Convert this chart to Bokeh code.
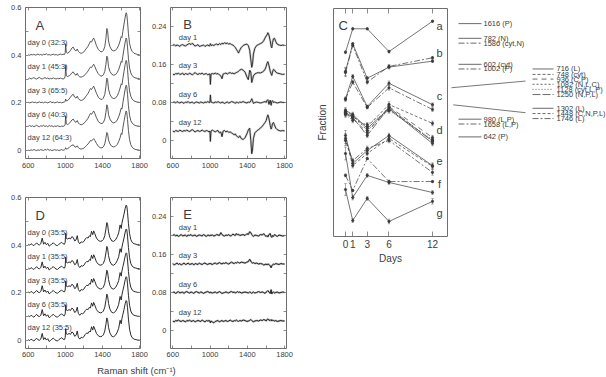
from bokeh.plotting import figure
from bokeh.models import Range1d, LinearAxis, FixedTicker, Label, ColumnDataSource, Whisker, TeeHead
from bokeh.layouts import row, column
from bokeh.embed import file_html
from bokeh.resources import INLINE
from bokeh.core.properties import value

# ---------------- data ----------------
wn = [600, 615, 630, 645, 660, 675, 690, 705, 720, 735,
      750, 765, 780, 795, 810, 825, 840, 855, 870, 885,
      900, 915, 930, 945, 960, 975, 990, 998, 1003, 1010,
      1025, 1040, 1055, 1070, 1085, 1100, 1115, 1128, 1140, 1155,
      1170, 1185, 1200, 1215, 1230, 1245, 1260, 1270, 1282, 1295,
      1305, 1318, 1335, 1355, 1375, 1395, 1410, 1425, 1437, 1447,
      1455, 1465, 1480, 1500, 1520, 1540, 1560, 1575, 1590, 1602,
      1610, 1620, 1632, 1645, 1655, 1662, 1670, 1680, 1692, 1705,
      1720, 1740, 1760, 1780, 1800]

offsets_A = [0.4, 0.3, 0.2, 0.1, 0.0]
labels_A = ["day 0 (32:3)", "day 1 (45:3)", "day 3 (65:5)", "day 6 (40:3)", "day 12 (64:3)"]

spec_A_day0 = [0.002, 0.000, 0.003, 0.001, 0.004, 0.000, 0.002, 0.005, 0.001, 0.003,
               0.000, 0.004, 0.002, 0.006, 0.001, 0.003, 0.000, 0.002, 0.004, 0.001,
               0.003, 0.000, 0.002, 0.005, 0.002, 0.004, 0.003, 0.010, 0.048, 0.012,
               0.008, 0.012, 0.020, 0.030, 0.034, 0.022, 0.018, 0.026, 0.016, 0.010,
               0.008, 0.010, 0.014, 0.022, 0.030, 0.038, 0.050, 0.058, 0.055, 0.066,
               0.072, 0.060, 0.040, 0.024, 0.016, 0.014, 0.020, 0.036, 0.070, 0.112,
               0.104, 0.060, 0.036, 0.022, 0.018, 0.020, 0.030, 0.042, 0.060, 0.078,
               0.074, 0.100, 0.130, 0.160, 0.178, 0.172, 0.140, 0.090, 0.050, 0.028,
               0.016, 0.008, 0.005, 0.003, 0.002]
spec_A_day1 = [0.001, 0.004, 0.000, 0.003, 0.006, 0.002, 0.000, 0.004, 0.007, 0.002,
               0.000, 0.003, 0.006, 0.002, 0.004, 0.000, 0.003, 0.001, 0.005, 0.002,
               0.000, 0.003, 0.001, 0.004, 0.002, 0.000, 0.003, 0.012, 0.058, 0.014,
               0.010, 0.014, 0.018, 0.026, 0.030, 0.020, 0.016, 0.024, 0.014, 0.009,
               0.008, 0.010, 0.013, 0.020, 0.026, 0.034, 0.044, 0.050, 0.048, 0.056,
               0.062, 0.052, 0.036, 0.022, 0.014, 0.012, 0.018, 0.032, 0.062, 0.096,
               0.090, 0.052, 0.032, 0.020, 0.016, 0.018, 0.028, 0.040, 0.058, 0.074,
               0.070, 0.096, 0.126, 0.155, 0.172, 0.166, 0.134, 0.086, 0.046, 0.026,
               0.014, 0.007, 0.004, 0.003, 0.002]
spec_A_day3 = [0.003, 0.000, 0.002, 0.004, 0.001, 0.003, 0.000, 0.002, 0.004, 0.001,
               0.003, 0.000, 0.004, 0.002, 0.000, 0.003, 0.005, 0.001, 0.003, 0.000,
               0.002, 0.004, 0.001, 0.003, 0.000, 0.002, 0.004, 0.006, 0.016, 0.008,
               0.010, 0.016, 0.024, 0.032, 0.036, 0.024, 0.020, 0.028, 0.018, 0.012,
               0.010, 0.012, 0.016, 0.024, 0.032, 0.040, 0.052, 0.060, 0.056, 0.064,
               0.070, 0.058, 0.040, 0.024, 0.016, 0.014, 0.020, 0.036, 0.068, 0.104,
               0.098, 0.058, 0.036, 0.022, 0.018, 0.020, 0.030, 0.044, 0.062, 0.080,
               0.076, 0.102, 0.132, 0.162, 0.178, 0.172, 0.140, 0.090, 0.050, 0.028,
               0.016, 0.008, 0.005, 0.003, 0.002]
spec_A_day6 = [0.002, 0.005, 0.001, 0.004, 0.000, 0.003, 0.006, 0.002, 0.000, 0.004,
               0.002, 0.006, 0.001, 0.004, 0.000, 0.005, 0.002, 0.004, 0.000, 0.003,
               0.001, 0.004, 0.002, 0.000, 0.003, 0.001, 0.004, 0.010, 0.046, 0.012,
               0.008, 0.014, 0.020, 0.028, 0.032, 0.022, 0.018, 0.026, 0.016, 0.010,
               0.008, 0.010, 0.014, 0.021, 0.028, 0.036, 0.048, 0.056, 0.052, 0.060,
               0.066, 0.056, 0.038, 0.022, 0.015, 0.013, 0.018, 0.032, 0.060, 0.092,
               0.086, 0.050, 0.032, 0.020, 0.016, 0.019, 0.028, 0.042, 0.060, 0.078,
               0.074, 0.100, 0.128, 0.158, 0.174, 0.168, 0.136, 0.088, 0.048, 0.026,
               0.015, 0.008, 0.004, 0.003, 0.002]
spec_A_day12 = [0.002, 0.000, 0.003, 0.001, 0.004, 0.002, 0.000, 0.003, 0.001, 0.004,
                0.002, 0.000, 0.005, 0.002, 0.006, 0.001, 0.003, 0.000, 0.002, 0.004,
                0.001, 0.003, 0.000, 0.002, 0.004, 0.001, 0.003, 0.006, 0.012, 0.006,
                0.008, 0.012, 0.018, 0.022, 0.024, 0.016, 0.014, 0.020, 0.012, 0.008,
                0.006, 0.008, 0.010, 0.016, 0.022, 0.028, 0.036, 0.042, 0.040, 0.046,
                0.050, 0.042, 0.030, 0.018, 0.012, 0.011, 0.016, 0.028, 0.052, 0.076,
                0.072, 0.044, 0.028, 0.018, 0.015, 0.018, 0.026, 0.038, 0.054, 0.072,
                0.068, 0.094, 0.122, 0.150, 0.166, 0.160, 0.130, 0.084, 0.046, 0.025,
                0.014, 0.007, 0.004, 0.003, 0.002]

offsets_D = [0.4, 0.3, 0.2, 0.1, 0.0]
labels_D = ["day 0 (35:5)", "day 1 (35:5)", "day 3 (35:5)", "day 6 (35:5)", "day 12 (35:5)"]
spec_D = [0.004, 0.000, 0.006, 0.002, -0.002, 0.004, 0.010, 0.003, 0.001, 0.006,
          0.030, 0.004, 0.012, 0.002, 0.008, -0.004, 0.000, 0.006, 0.010, 0.004,
          0.000, -0.002, 0.004, 0.008, 0.012, 0.006, 0.004, 0.012, 0.050, 0.028,
          0.026, 0.030, 0.026, 0.036, 0.032, 0.018, 0.022, 0.040, 0.014, 0.006,
          0.014, 0.012, 0.016, 0.026, 0.032, 0.030, 0.040, 0.036, 0.058, 0.044,
          0.060, 0.048, 0.030, 0.020, 0.016, 0.018, 0.024, 0.040, 0.068, 0.095,
          0.088, 0.056, 0.032, 0.018, 0.016, 0.022, 0.036, 0.052, 0.085, 0.070,
          0.092, 0.110, 0.130, 0.155, 0.168, 0.165, 0.138, 0.090, 0.048, 0.024,
          0.012, 0.006, 0.004, 0.002, 0.002]

offsets_B = [0.2, 0.14, 0.08, 0.02]
labels_B = ["day 1", "day 3", "day 6", "day 12"]
diff_B_day1 = [0.000, 0.002, -0.001, 0.001, 0.000, -0.002, 0.001, 0.002, 0.000, -0.001,
               0.001, 0.003, 0.004, 0.002, 0.005, 0.001, -0.001, 0.000, 0.002, -0.002,
               -0.001, 0.000, 0.001, -0.002, 0.000, 0.001, -0.001, 0.000, 0.004, 0.000,
               0.001, 0.000, 0.002, 0.003, 0.001, 0.004, 0.002, 0.005, 0.003, 0.006,
               0.004, 0.005, 0.003, 0.004, 0.002, 0.001, -0.002, -0.004, -0.008, -0.012,
               -0.016, -0.010, -0.004, 0.000, 0.002, 0.003, 0.000, -0.010, -0.030, -0.046,
               -0.040, -0.018, -0.006, 0.000, 0.002, 0.004, 0.006, 0.010, 0.016, 0.020,
               0.022, 0.027, 0.022, 0.010, -0.002, -0.005, 0.006, 0.014, 0.015, 0.008,
               0.003, 0.001, 0.000, 0.001, 0.000]
diff_B_day3 = [0.000, -0.002, 0.001, 0.000, 0.002, -0.001, 0.000, 0.002, -0.002, 0.001,
               0.000, -0.001, 0.002, 0.000, -0.002, 0.001, 0.003, 0.000, -0.001, 0.001,
               0.000, 0.002, -0.001, 0.000, 0.001, -0.002, 0.000, 0.000, -0.022, 0.000,
               0.001, 0.000, 0.002, 0.000, 0.001, -0.002, -0.004, -0.010, 0.000, 0.001,
               0.002, 0.000, 0.002, 0.003, 0.001, 0.002, 0.000, 0.002, 0.003, 0.004,
               0.006, 0.008, 0.010, 0.008, 0.004, -0.006, -0.012, 0.008, 0.004, -0.018,
               -0.012, -0.004, 0.000, 0.002, 0.003, 0.002, 0.004, 0.006, 0.010, 0.016,
               0.022, 0.026, 0.018, 0.006, 0.000, -0.003, 0.004, 0.010, 0.008, 0.004,
               0.002, 0.001, 0.000, -0.001, 0.000]
diff_B_day6 = [0.000, 0.001, -0.001, 0.002, 0.000, -0.001, 0.001, 0.000, -0.002, 0.001,
               0.000, 0.002, -0.001, 0.000, 0.001, -0.002, 0.000, 0.001, 0.000, -0.001,
               0.001, 0.000, -0.001, 0.001, 0.000, 0.002, 0.000, 0.000, 0.016, 0.001,
               0.000, -0.001, 0.001, 0.000, 0.002, 0.000, -0.001, 0.001, 0.000, -0.002,
               0.000, 0.001, -0.001, 0.000, 0.002, 0.001, 0.000, -0.002, 0.001, 0.000,
               -0.001, 0.001, 0.000, 0.002, 0.000, -0.001, 0.001, 0.000, 0.003, 0.008,
               0.004, -0.002, 0.000, 0.001, 0.000, -0.001, 0.000, 0.001, 0.002, 0.000,
               0.004, 0.006, -0.004, 0.005, -0.006, 0.002, 0.004, 0.000, 0.001, 0.000,
               -0.001, 0.000, 0.001, 0.000, 0.000]
diff_B_day12 = [0.000, -0.002, 0.001, 0.000, -0.001, 0.002, 0.000, -0.001, 0.001, 0.000,
                0.002, 0.000, -0.001, 0.001, 0.003, 0.000, -0.002, 0.000, 0.001, -0.001,
                0.000, 0.002, 0.000, -0.001, 0.001, 0.000, -0.002, 0.000, -0.022, 0.000,
                0.002, 0.000, -0.002, 0.000, 0.001, -0.004, -0.002, -0.012, 0.000, 0.001,
                -0.002, 0.000, -0.003, -0.002, -0.004, -0.006, -0.008, -0.006, -0.010, -0.012,
                -0.014, -0.010, -0.016, -0.018, -0.014, -0.006, 0.002, 0.006, -0.020, -0.048,
                -0.040, -0.016, -0.004, 0.000, 0.003, 0.006, 0.010, 0.014, 0.018, 0.022,
                0.028, 0.034, 0.026, 0.012, 0.004, 0.008, 0.016, 0.018, 0.012, 0.006,
                0.003, 0.001, 0.000, 0.001, 0.000]

offsets_E = [0.2, 0.14, 0.08, 0.02]
labels_E = ["day 1", "day 3", "day 6", "day 12"]
diff_E_day1 = [0.000, 0.002, -0.001, 0.001, -0.002, 0.000, 0.002, -0.001, 0.000, 0.001,
               -0.002, 0.001, 0.000, 0.002, -0.001, 0.000, 0.001, -0.002, 0.000, 0.001,
               0.000, -0.001, 0.002, 0.000, -0.002, 0.001, 0.000, -0.001, 0.001, 0.000,
               0.001, -0.001, 0.000, 0.002, 0.001, 0.000, 0.006, 0.002, 0.000, -0.001,
               0.001, 0.000, 0.002, -0.001, 0.000, 0.003, 0.001, 0.000, 0.004, 0.001,
               0.003, 0.000, 0.001, 0.002, 0.000, 0.004, 0.002, 0.008, 0.006, 0.002,
               0.000, -0.002, 0.001, 0.000, -0.001, 0.002, 0.001, 0.004, 0.000, -0.002,
               0.000, -0.003, 0.002, 0.004, -0.002, -0.004, 0.000, -0.002, 0.002, 0.000,
               -0.002, 0.001, 0.000, -0.001, 0.000]
diff_E_day3 = [0.001, -0.002, 0.000, 0.002, -0.001, 0.001, -0.002, 0.000, 0.002, -0.001,
               0.000, 0.002, -0.001, 0.000, 0.001, -0.002, 0.001, 0.000, -0.001, 0.002,
               0.000, -0.001, 0.001, 0.002, 0.000, -0.001, 0.001, 0.000, 0.002, 0.000,
               -0.001, 0.001, 0.002, 0.000, 0.001, 0.003, 0.001, 0.000, 0.002, 0.001,
               0.003, 0.001, 0.000, 0.002, 0.004, 0.002, 0.001, 0.003, 0.002, 0.004,
               0.003, 0.002, 0.004, 0.003, 0.002, 0.004, 0.005, 0.010, 0.006, 0.003,
               0.002, 0.003, 0.001, 0.002, 0.000, 0.001, 0.000, -0.002, -0.001, 0.000,
               -0.002, 0.000, -0.001, -0.004, -0.008, -0.004, -0.002, 0.000, -0.001, 0.001,
               0.000, -0.001, 0.001, 0.000, 0.000]
diff_E_day6 = [0.000, 0.001, -0.002, 0.000, 0.002, -0.001, 0.000, 0.001, -0.002, 0.001,
               0.002, 0.000, -0.001, 0.001, 0.000, -0.002, 0.001, 0.002, 0.000, -0.001,
               0.001, 0.000, -0.002, 0.000, 0.001, 0.002, 0.000, -0.001, 0.001, 0.000,
               -0.001, 0.000, 0.001, -0.001, 0.000, 0.002, 0.000, -0.002, -0.001, 0.000,
               0.001, 0.000, -0.001, 0.001, 0.002, 0.000, 0.001, -0.001, 0.000, 0.002,
               0.000, 0.001, -0.001, 0.000, 0.001, 0.000, -0.001, 0.001, 0.000, -0.002,
               0.000, 0.001, -0.001, 0.000, 0.002, 0.000, 0.001, 0.000, -0.002, 0.001,
               0.002, 0.004, 0.001, -0.002, 0.006, -0.003, 0.000, 0.001, -0.001, 0.000,
               0.001, -0.001, 0.000, 0.001, 0.000]
diff_E_day12 = [0.000, -0.002, 0.001, 0.000, 0.002, 0.000, -0.001, 0.001, 0.000, -0.002,
                0.001, 0.000, 0.002, -0.001, 0.000, 0.001, -0.002, 0.000, 0.001, 0.000,
                -0.001, 0.002, 0.000, -0.002, 0.001, 0.000, 0.001, 0.000, -0.004, 0.000,
                -0.002, -0.004, -0.001, 0.000, 0.001, -0.002, 0.000, 0.001, -0.001, 0.000,
                0.001, -0.001, 0.000, 0.002, 0.000, -0.001, 0.001, 0.000, 0.002, 0.000,
                -0.001, 0.001, 0.000, 0.002, 0.001, -0.001, 0.000, 0.001, 0.003, 0.001,
                0.000, -0.002, 0.000, 0.001, 0.000, 0.002, 0.001, 0.003, 0.002, 0.000,
                0.003, 0.004, 0.002, 0.001, 0.003, 0.000, 0.002, 0.001, 0.000, 0.001,
                -0.001, 0.000, 0.001, 0.000, 0.000]

# panel C: relative fractions (stacked, arbitrary offset units) vs days
c_days = [0, 1, 3, 6, 12]
c_1616 = [0.808, 0.911, 0.911, 0.811, 0.944]
c_782 = [0.724, 0.845, 0.694, 0.743, 0.769]
c_1586 = [0.719, 0.838, 0.677, 0.746, 0.784]
c_602 = [0.604, 0.702, 0.570, 0.672, 0.578]
c_1002 = [0.601, 0.677, 0.566, 0.652, 0.557]
c_716 = [0.553, 0.535, 0.474, 0.561, 0.408]
c_748 = [0.544, 0.526, 0.482, 0.579, 0.496]
c_936 = [0.539, 0.518, 0.456, 0.570, 0.434]
c_1082 = [0.548, 0.531, 0.465, 0.557, 0.421]
c_1128 = [0.535, 0.509, 0.491, 0.553, 0.425]
c_1250 = [0.544, 0.522, 0.443, 0.566, 0.417]
c_1302 = [0.443, 0.320, 0.377, 0.443, 0.311]
c_1448 = [0.430, 0.311, 0.364, 0.430, 0.307]
c_1746 = [0.421, 0.333, 0.386, 0.421, 0.281]
c_980 = [0.364, 0.171, 0.268, 0.237, 0.193]
c_1658 = [0.268, 0.202, 0.342, 0.241, 0.241]
c_642 = [0.206, 0.070, 0.167, 0.066, 0.154]

err_small = [0.006, 0.004, 0.004, 0.006, 0.004]
err_b = [0.018, 0.006, 0.008, 0.008, 0.006]
err_c = [0.008, 0.008, 0.006, 0.010, 0.008]
err_d = [0.012, 0.010, 0.008, 0.012, 0.010]
err_e = [0.022, 0.010, 0.010, 0.010, 0.012]
err_f = [0.028, 0.010, 0.008, 0.008, 0.008]
err_g = [0.026, 0.008, 0.008, 0.010, 0.012]

group_letters = ["a", "b", "c", "d", "e", "f", "g"]
group_letter_y = [0.925, 0.807, 0.618, 0.465, 0.329, 0.232, 0.105]

# ---------------- styling ----------------
FONT = "Liberation Sans"
AXC = "#6e6e6e"
TXT = "#3c3c3c"
LINE = "#3a3a3a"

DASH = {"solid": "solid", "dashdot": "6 2 2 2", "short": "3 2", "long": "5 4",
        "fine": "2 2", "dot": "1 2", "longdash": "8 2"}


def make_fig(w, h, xr, yr, bl, br, bt, bb, outline=True):
    p = figure(width=w, height=h, x_range=Range1d(*xr), y_range=Range1d(*yr),
               output_backend="svg", toolbar_location=None,
               min_border_left=bl, min_border_right=br, min_border_top=bt, min_border_bottom=bb,
               x_axis_type=None, y_axis_type=None)
    p.outline_line_color = AXC if outline else None
    p.outline_line_width = 1
    p.background_fill_color = "white"
    p.border_fill_color = "white"
    return p


def add_axis(p, side, ticks, minor=None, overrides=None, size="7.5px", standoff=4,
             tick_in=3, labels=True):
    if labels:
        ticker = FixedTicker(ticks=ticks, minor_ticks=minor or [])
    else:
        # mirrored axis: every tick drawn as a (label-free) minor tick
        ticker = FixedTicker(ticks=[], minor_ticks=list(ticks) + list(minor or []))
    ax = LinearAxis(ticker=ticker)
    ax.axis_line_color = None
    ax.major_tick_in = tick_in
    ax.major_tick_out = 0
    ax.minor_tick_in = tick_in
    ax.minor_tick_out = 0
    ax.major_tick_line_color = AXC
    ax.minor_tick_line_color = AXC
    ax.major_tick_line_width = 0.8
    ax.minor_tick_line_width = 0.8
    ax.major_label_text_font = FONT
    ax.major_label_text_font_size = size
    ax.major_label_text_color = TXT
    if labels:
        if overrides:
            ax.major_label_overrides = overrides
        ax.major_label_standoff = standoff
    else:
        ax.major_label_standoff = 0
    p.add_layout(ax, side)
    return ax


xt = [600, 1000, 1400, 1800]
xm = [800, 1200, 1600]


def spectra_frame(p, yt, ym, yover, bstand):
    add_axis(p, "below", xt, xm, standoff=bstand)
    add_axis(p, "above", xt, xm, labels=False)
    add_axis(p, "left", yt, ym, overrides=yover, standoff=4)
    add_axis(p, "right", yt, ym, labels=False)


def txt_label(p, x, y, text, size="7.5px", baseline="middle", align="left"):
    p.add_layout(Label(x=x, y=y, text=text, text_font=FONT, text_font_size=size,
                       text_color=TXT, text_baseline=baseline, text_align=align))


A_over = {0: "0", 0.2: "0.2", 0.4: "0.4", 0.6: "0.6"}
B_over = {0: "0", 0.08: "0.08", 0.16: "0.16", 0.24: "0.24"}

# Panel A
A = make_fig(148, 190, (570, 1810), (-0.0333, 0.6), 25, 8, 7, 31)
spectra_frame(A, [0, 0.2, 0.4, 0.6], [0.1, 0.3, 0.5], A_over, 4)
for off, spec, lab in zip(offsets_A, [spec_A_day0, spec_A_day1, spec_A_day3, spec_A_day6, spec_A_day12], labels_A):
    A.line(wn, [off + v for v in spec], line_color="#454545", line_width=0.9)
    txt_label(A, 592, off + 0.053, lab)
txt_label(A, 678, 0.558, "A", size="13px", baseline="top")

# Panel D
D = make_fig(148, 172, (570, 1810), (-0.0333, 0.6), 25, 8, 7, 13)
spectra_frame(D, [0, 0.2, 0.4, 0.6], [0.1, 0.3, 0.5], A_over, 3)
for off, lab in zip(offsets_D, labels_D):
    D.line(wn, [off + v for v in spec_D], line_color="#2a2a2a", line_width=1.0)
    txt_label(D, 592, off + 0.053, lab)
txt_label(D, 678, 0.558, "D", size="13px", baseline="top")

# Panel B
B = make_fig(152, 190, (575, 1820), (-0.0379, 0.28), 22, 14, 7, 32)
spectra_frame(B, [0, 0.08, 0.16, 0.24], [0.04, 0.12, 0.2], B_over, 4)
for off, spec, lab in zip(offsets_B, [diff_B_day1, diff_B_day3, diff_B_day6, diff_B_day12], labels_B):
    ys = [off + v for v in spec]
    B.line(wn, ys, line_color="#cfcfcf", line_width=2.2)
    B.line(wn, ys, line_color="#222222", line_width=0.9)
    txt_label(B, 664, off + 0.017, lab)
txt_label(B, 711, 0.26, "B", size="13px", baseline="top")

# Panel E
E = make_fig(152, 172, (575, 1820), (-0.0379, 0.28), 22, 14, 7, 14)
spectra_frame(E, [0, 0.08, 0.16, 0.24], [0.04, 0.12, 0.2], B_over, 3)
for off, spec, lab in zip(offsets_E, [diff_E_day1, diff_E_day3, diff_E_day6, diff_E_day12], labels_E):
    ys = [off + v for v in spec]
    E.line(wn, ys, line_color="#bdbdbd", line_width=2.0)
    E.line(wn, ys, line_color="#222222", line_width=1.0)
    txt_label(E, 664, off + 0.017, lab)
txt_label(E, 711, 0.26, "E", size="13px", baseline="top")

# x-axis title strip
S = make_fig(300, 15, (0, 300), (0, 15), 0, 0, 0, 0, outline=False)
txt_label(S, 136, 7, "Raman shift (cm\u207b\u00b9)", size="9.5px", align="center")

# Panel C
C = make_fig(148, 377, (-1.655, 14.07), (0, 1), 33, 1, 8, 141)
bx = add_axis(C, "below", c_days, standoff=3, size="10px", tick_in=5)
bx.axis_label = "Days"
bx.axis_label_text_font = FONT
bx.axis_label_text_font_size = "10px"
bx.axis_label_text_font_style = "normal"
bx.axis_label_text_color = TXT
bx.axis_label_standoff = 2
add_axis(C, "above", c_days, labels=False, tick_in=5)
ly = add_axis(C, "left", [], labels=False, tick_in=0)
ly.axis_label = "Fraction"
ly.axis_label_text_font = FONT
ly.axis_label_text_font_size = "10px"
ly.axis_label_text_font_style = "normal"
ly.axis_label_text_color = TXT
ly.axis_label_standoff = 6

c_series = [
    (c_1616, err_small, "solid"),
    (c_782, err_b, "solid"), (c_1586, err_b, "dashdot"),
    (c_602, err_c, "solid"), (c_1002, err_c, "dashdot"),
    (c_716, err_d, "solid"), (c_748, err_d, "short"), (c_936, err_d, "long"),
    (c_1082, err_d, "fine"), (c_1128, err_d, "dot"), (c_1250, err_d, "longdash"),
    (c_1302, err_e, "solid"), (c_1448, err_e, "short"), (c_1746, err_e, "dashdot"),
    (c_980, err_f, "solid"), (c_1658, err_small, "dashdot"),
    (c_642, err_g, "solid"),
]
for vals, errs, dash in c_series:
    C.line(c_days, vals, line_color=LINE, line_width=0.7, line_dash=DASH[dash])
    C.scatter(c_days, vals, size=2.2, color=LINE)
    src = ColumnDataSource(dict(base=c_days,
                                upper=[v + e for v, e in zip(vals, errs)],
                                lower=[v - e for v, e in zip(vals, errs)]))
    C.add_layout(Whisker(source=src, base="base", upper="upper", lower="lower",
                         line_color="#555555", line_width=0.5,
                         upper_head=TeeHead(size=2.5, line_color="#555555", line_width=0.5),
                         lower_head=TeeHead(size=2.5, line_color="#555555", line_width=0.5)))
C.text(x=[12.97] * len(group_letters), y=group_letter_y, text=group_letters,
       text_font=value(FONT), text_font_size=value("11px"), text_color=TXT,
       text_align="center", text_baseline="middle")
txt_label(C, -0.97, 0.958, "C", size="13px", baseline="top")

# legend / assignment panel (screen-like coordinates)
L = make_fig(158, 377, (448, 606), (377, 0), 0, 0, 0, 0, outline=False)
legend1 = [("1616 (P)", "solid", 25), ("782 (N)", "solid", 49.3), ("1586 (cyt,N)", "dashdot", 57.3),
           ("602 (cyt)", "solid", 92.3), ("1002 (P)", "dashdot", 100),
           ("980 (L,P)", "solid", 183), ("1658 (L,P)", "dashdot", 191), ("642 (P)", "solid", 212.3)]
legend2 = [("716 (L)", "solid", 100), ("748 (cyt)", "short", 109), ("936 (C,P)", "long", 116.7),
           ("1082 (N,L,C)", "fine", 125.3), ("1128 (cyt,L,P)", "dot", 133.7), ("1250 (N,P,L)", "longdash", 142.3),
           ("1302 (L)", "solid", 165), ("1448 (C,N,P,L)", "short", 173.7), ("1746 (L)", "dashdot", 182)]
for entries, x0, x1, xt0 in [(legend1, 458, 481, 483), (legend2, 532, 553, 556)]:
    for lab, dash, y in entries:
        L.line([x0, x1], [y, y], line_color="#444444", line_width=0.8, line_dash=DASH[dash])
    L.text(x=[xt0] * len(entries), y=[e[2] for e in entries], text=[e[0] for e in entries],
           text_font=value(FONT), text_font_size=value("7.5px"), text_color=TXT,
           text_baseline="middle", text_align="left")
L.line([451, 525], [131, 120], line_color="#555555", line_width=0.8)
L.line([452.7, 525], [159.3, 172.3], line_color="#555555", line_width=0.8)

left = column(row(A, B), row(D, E), S)
page = row(left, C, L)

open("out.html", "w").write(file_html(page, INLINE))
